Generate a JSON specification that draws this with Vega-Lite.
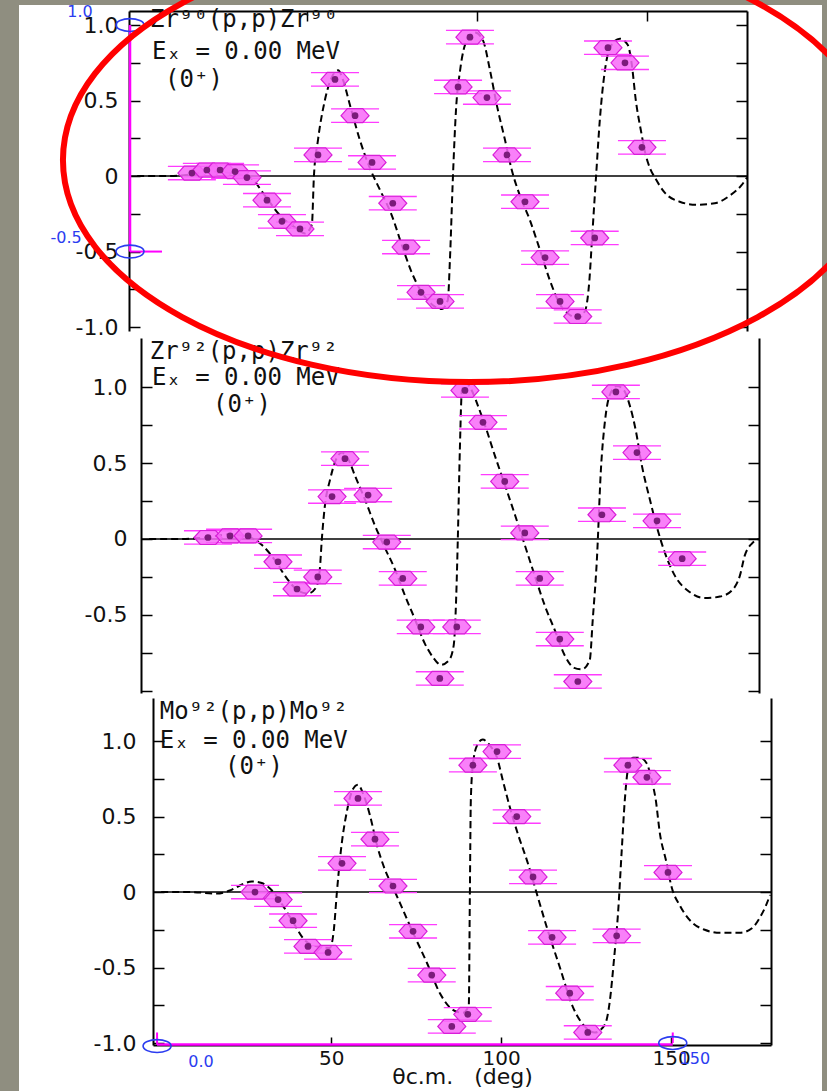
{
"$schema": "https://vega.github.io/schema/vega-lite/v6.json",
"width": 803, "height": 1086,
"autosize": {"type": "none"},
"padding": {"left": 19, "top": 5, "right": 5, "bottom": 0},
"background": "#8f8e80",
"config": {"view": {"fill": "white", "stroke": null}, "axis": {"grid": false}},
"data": {"values": [{}]},
"datasets": {
"zr90_pts": [{"theta":16.1,"val":0.02},{"theta":20.5,"val":0.04},{"theta":24.4,"val":0.04},{"theta":28.8,"val":0.03},{"theta":32.3,"val":-0.01},{"theta":38.2,"val":-0.16},{"theta":42.6,"val":-0.30},{"theta":47.9,"val":-0.35},{"theta":53.2,"val":0.14},{"theta":58.2,"val":0.64},{"theta":64.1,"val":0.40},{"theta":69.1,"val":0.09},{"theta":75.2,"val":-0.18},{"theta":79.1,"val":-0.47},{"theta":83.5,"val":-0.77},{"theta":89.1,"val":-0.83},{"theta":94.4,"val":0.59},{"theta":97.9,"val":0.92},{"theta":102.9,"val":0.52},{"theta":108.8,"val":0.14},{"theta":114.1,"val":-0.17},{"theta":120.0,"val":-0.54},{"theta":124.4,"val":-0.83},{"theta":129.6,"val":-0.93},{"theta":134.6,"val":-0.41},{"theta":138.5,"val":0.85},{"theta":143.5,"val":0.75},{"theta":148.5,"val":0.19}],
"zr90_th": [{"theta":0,"val":0},{"theta":9.6,"val":0},{"theta":15.5,"val":0.01},{"theta":21.4,"val":0.03},{"theta":27.3,"val":0.02},{"theta":33.2,"val":-0.01},{"theta":37.6,"val":-0.13},{"theta":42.0,"val":-0.26},{"theta":46.4,"val":-0.34},{"theta":49.4,"val":-0.38},{"theta":51.4,"val":-0.32},{"theta":52.0,"val":0},{"theta":53.2,"val":0.24},{"theta":55.2,"val":0.50},{"theta":57.6,"val":0.67},{"theta":59.1,"val":0.70},{"theta":60.5,"val":0.64},{"theta":62.6,"val":0.47},{"theta":65.5,"val":0.24},{"theta":68.5,"val":0.05},{"theta":71.4,"val":-0.09},{"theta":74.9,"val":-0.26},{"theta":77.9,"val":-0.46},{"theta":80.8,"val":-0.64},{"theta":83.2,"val":-0.75},{"theta":86.7,"val":-0.85},{"theta":89.6,"val":-0.88},{"theta":91.4,"val":-0.82},{"theta":92.0,"val":-0.56},{"theta":92.9,"val":0},{"theta":93.8,"val":0.44},{"theta":95.0,"val":0.70},{"theta":97.0,"val":0.90},{"theta":99.4,"val":0.95},{"theta":101.7,"val":0.90},{"theta":103.8,"val":0.70},{"theta":105.8,"val":0.47},{"theta":108.2,"val":0.24},{"theta":110.2,"val":0.04},{"theta":112.6,"val":-0.13},{"theta":115.5,"val":-0.29},{"theta":118.5,"val":-0.49},{"theta":121.4,"val":-0.69},{"theta":124.4,"val":-0.85},{"theta":127.3,"val":-0.92},{"theta":129.8,"val":-0.94},{"theta":131.8,"val":-0.89},{"theta":133.0,"val":-0.70},{"theta":133.8,"val":-0.42},{"theta":135.0,"val":0},{"theta":136.1,"val":0.37},{"theta":137.6,"val":0.70},{"theta":139.6,"val":0.87},{"theta":142.0,"val":0.91},{"theta":144.3,"val":0.87},{"theta":145.5,"val":0.74},{"theta":146.7,"val":0.50},{"theta":148.2,"val":0.30},{"theta":149.6,"val":0.14},{"theta":151.1,"val":0.04},{"theta":152.3,"val":-0.01},{"theta":155.2,"val":-0.11},{"theta":159.6,"val":-0.17},{"theta":164.6,"val":-0.19},{"theta":169.9,"val":-0.18},{"theta":174.3,"val":-0.13},{"theta":177.8,"val":-0.06},{"theta":179.4,"val":-0.01}],
"zr92_pts": [{"theta":17.3,"val":0.01},{"theta":23.8,"val":0.02},{"theta":29.1,"val":0.02},{"theta":37.9,"val":-0.15},{"theta":43.5,"val":-0.33},{"theta":49.6,"val":-0.25},{"theta":53.8,"val":0.28},{"theta":57.6,"val":0.53},{"theta":64.4,"val":0.29},{"theta":69.9,"val":-0.02},{"theta":74.6,"val":-0.26},{"theta":79.9,"val":-0.58},{"theta":85.5,"val":-0.92},{"theta":90.5,"val":-0.58},{"theta":92.9,"val":0.98},{"theta":98.2,"val":0.77},{"theta":104.6,"val":0.38},{"theta":110.5,"val":0.04},{"theta":114.9,"val":-0.26},{"theta":120.8,"val":-0.66},{"theta":126.1,"val":-0.94},{"theta":133.2,"val":0.16},{"theta":137.3,"val":0.97},{"theta":143.5,"val":0.57},{"theta":149.4,"val":0.12},{"theta":156.8,"val":-0.13}],
"zr92_th": [{"theta":0,"val":0},{"theta":9.1,"val":0},{"theta":16.4,"val":0.01},{"theta":23.8,"val":0.03},{"theta":29.6,"val":0.01},{"theta":33.2,"val":-0.04},{"theta":37.0,"val":-0.14},{"theta":40.5,"val":-0.26},{"theta":43.8,"val":-0.34},{"theta":46.7,"val":-0.36},{"theta":49.1,"val":-0.32},{"theta":50.2,"val":-0.20},{"theta":50.8,"val":0},{"theta":51.7,"val":0.22},{"theta":53.2,"val":0.39},{"theta":54.9,"val":0.52},{"theta":56.7,"val":0.57},{"theta":58.5,"val":0.53},{"theta":60.5,"val":0.42},{"theta":63.5,"val":0.26},{"theta":66.4,"val":0.09},{"theta":69.4,"val":-0.06},{"theta":72.3,"val":-0.20},{"theta":75.2,"val":-0.37},{"theta":78.2,"val":-0.53},{"theta":81.1,"val":-0.69},{"theta":83.5,"val":-0.78},{"theta":85.8,"val":-0.83},{"theta":88.2,"val":-0.80},{"theta":89.6,"val":-0.70},{"theta":90.3,"val":-0.40},{"theta":90.8,"val":0},{"theta":91.4,"val":0.59},{"theta":92.0,"val":0.98},{"theta":93.2,"val":1.03},{"theta":94.9,"val":0.98},{"theta":96.7,"val":0.88},{"theta":98.8,"val":0.75},{"theta":101.7,"val":0.55},{"theta":104.6,"val":0.36},{"theta":107.6,"val":0.16},{"theta":110.5,"val":-0.04},{"theta":113.4,"val":-0.24},{"theta":116.4,"val":-0.44},{"theta":119.3,"val":-0.60},{"theta":122.3,"val":-0.77},{"theta":125.0,"val":-0.85},{"theta":127.3,"val":-0.86},{"theta":129.6,"val":-0.80},{"theta":130.5,"val":-0.53},{"theta":131.7,"val":-0.14},{"theta":132.9,"val":0.46},{"theta":134.1,"val":0.78},{"theta":135.5,"val":0.95},{"theta":137.6,"val":1.01},{"theta":139.7,"val":0.98},{"theta":141.4,"val":0.88},{"theta":143.2,"val":0.71},{"theta":144.9,"val":0.49},{"theta":147.3,"val":0.26},{"theta":149.6,"val":0.06},{"theta":151.7,"val":-0.09},{"theta":154.6,"val":-0.24},{"theta":159.0,"val":-0.35},{"theta":163.4,"val":-0.39},{"theta":167.9,"val":-0.38},{"theta":171.4,"val":-0.34},{"theta":173.8,"val":-0.24},{"theta":175.2,"val":-0.11},{"theta":177.3,"val":-0.03},{"theta":179.4,"val":0}],
"mo92_pts": [{"theta":27.6,"val":0.0},{"theta":34.4,"val":-0.05},{"theta":38.8,"val":-0.19},{"theta":43.2,"val":-0.36},{"theta":49.1,"val":-0.40},{"theta":53.2,"val":0.19},{"theta":57.9,"val":0.62},{"theta":62.9,"val":0.35},{"theta":68.2,"val":0.04},{"theta":74.1,"val":-0.26},{"theta":79.6,"val":-0.55},{"theta":85.5,"val":-0.89},{"theta":90.2,"val":-0.81},{"theta":91.7,"val":0.84},{"theta":98.8,"val":0.93},{"theta":104.6,"val":0.50},{"theta":109.4,"val":0.10},{"theta":115.0,"val":-0.30},{"theta":120.2,"val":-0.67},{"theta":125.5,"val":-0.93},{"theta":134.0,"val":-0.29},{"theta":137.3,"val":0.84},{"theta":142.9,"val":0.76},{"theta":149.1,"val":0.13}],
"mo92_th": [{"theta":0,"val":0},{"theta":8.5,"val":0},{"theta":16.4,"val":-0.01},{"theta":20.2,"val":0.01},{"theta":23.8,"val":0.05},{"theta":26.7,"val":0.07},{"theta":29.6,"val":0.06},{"theta":32.6,"val":0.01},{"theta":35.8,"val":-0.09},{"theta":38.8,"val":-0.20},{"theta":42.3,"val":-0.32},{"theta":45.8,"val":-0.36},{"theta":49.6,"val":-0.37},{"theta":50.8,"val":-0.25},{"theta":51.7,"val":0},{"theta":52.9,"val":0.28},{"theta":54.6,"val":0.53},{"theta":56.4,"val":0.68},{"theta":57.9,"val":0.71},{"theta":59.6,"val":0.64},{"theta":61.4,"val":0.51},{"theta":63.5,"val":0.31},{"theta":65.8,"val":0.15},{"theta":68.2,"val":0.03},{"theta":70.2,"val":-0.07},{"theta":74.1,"val":-0.27},{"theta":78.2,"val":-0.47},{"theta":82.0,"val":-0.67},{"theta":85.8,"val":-0.78},{"theta":88.8,"val":-0.80},{"theta":90.5,"val":-0.75},{"theta":90.8,"val":-0.05},{"theta":91.1,"val":0.61},{"theta":91.7,"val":0.84},{"theta":92.9,"val":0.97},{"theta":94.6,"val":1.01},{"theta":96.7,"val":0.97},{"theta":98.8,"val":0.89},{"theta":100.5,"val":0.74},{"theta":102.6,"val":0.56},{"theta":105.0,"val":0.38},{"theta":107.6,"val":0.21},{"theta":110.5,"val":-0.01},{"theta":113.4,"val":-0.23},{"theta":117.3,"val":-0.50},{"theta":121.1,"val":-0.76},{"theta":124.6,"val":-0.89},{"theta":127.6,"val":-0.93},{"theta":130.5,"val":-0.88},{"theta":132.0,"val":-0.72},{"theta":133.2,"val":-0.45},{"theta":134.4,"val":-0.14},{"theta":135.5,"val":0.28},{"theta":136.4,"val":0.61},{"theta":137.3,"val":0.81},{"theta":138.8,"val":0.89},{"theta":140.8,"val":0.89},{"theta":142.9,"val":0.85},{"theta":144.3,"val":0.74},{"theta":145.5,"val":0.61},{"theta":146.7,"val":0.39},{"theta":148.5,"val":0.21},{"theta":150.2,"val":0.03},{"theta":152.6,"val":-0.09},{"theta":156.1,"val":-0.20},{"theta":159.9,"val":-0.25},{"theta":164.4,"val":-0.27},{"theta":170.2,"val":-0.27},{"theta":173.8,"val":-0.24},{"theta":176.1,"val":-0.17},{"theta":177.9,"val":-0.09},{"theta":179.1,"val":-0.02}],
"cal_top": [{"theta":-2.1,"val":1.0},{"theta":-2.1,"val":-0.5}],
"cal_bot": [{"theta":-1.2,"val":-1.02},{"theta":150.5,"val":-1.0}]
},
"layer": [
{
"layer": [
{"mark":{"type":"rule","color":"black","strokeWidth":1.5},
 "encoding":{"x":{"datum":-2.4,"type":"quantitative","scale":{"domain":[-2.4,179.4],"range":[110,728],"nice":false,"zero":false},"axis":null},"x2":{"datum":179.4},
 "y":{"datum":0,"type":"quantitative","scale":{"domain":[-1.026,1.093],"range":[326,6],"nice":false,"zero":false},
  "axis":{"orient":"right","offset":-75,"values":[-1,-0.75,-0.5,-0.25,0,0.25,0.5,0.75,1],"labels":false,"tickSize":-11,"tickWidth":1.5,"tickColor":"black","domainColor":"black","domainWidth":2,"title":null,"grid":false}}}},
{"data":{"name":"zr90_th"},"mark":{"type":"line","color":"black","strokeWidth":2,"strokeDash":[7,4],"interpolate":"monotone"},
 "encoding":{"x":{"field":"theta","type":"quantitative","scale":{"domain":[-2.4,179.4],"range":[110,728],"nice":false,"zero":false},
  "axis":{"orient":"top","offset":-6,"values":[50,100,150],"labels":false,"tickSize":-10,"tickWidth":1.5,"tickColor":"black","domainColor":"black","domainWidth":2,"title":null,"grid":false}},
 "y":{"field":"val","type":"quantitative","scale":{"domain":[-1.026,1.093],"range":[326,6],"nice":false,"zero":false},
  "axis":{"orient":"left","offset":-110,"values":[-1,-0.75,-0.5,-0.25,0,0.25,0.5,0.75,1],"labelExpr":"datum.value == 0 ? '0' : (abs(datum.value * 2 - round(datum.value * 2)) > 0.001 ? '' : (datum.value < 0 ? '-' : '') + format(abs(datum.value), '.1f'))","tickSize":-11,"tickWidth":1.5,"tickColor":"black","labelPadding":22,"domainColor":"black","domainWidth":2,"labelFont":"DejaVu Sans","labelFontSize":22,"labelColor":"#111111","title":null,"grid":false,"labelOverlap":false,"labelFlush":false}}}},
{"data":{"name":"zr90_pts"},"mark":{"type":"point","shape":"M -1 -0.28 L 1 -0.28 M -1 0.28 L 1 0.28","size":2304,"filled":false,"stroke":"#ff3cff","strokeWidth":1.3,"opacity":1},
 "encoding":{"x":{"field":"theta","type":"quantitative","axis":null},"y":{"field":"val","type":"quantitative","axis":null}}},
{"data":{"name":"zr90_pts"},"mark":{"type":"point","shape":"M -1 0 L -0.55 -0.5 L 0.55 -0.5 L 1 0 L 0.55 0.5 L -0.55 0.5 Z","size":784,"filled":true,"fill":"#f86af8","fillOpacity":0.85,"stroke":"#d81fd8","strokeWidth":1.2,"opacity":1},
 "encoding":{"x":{"field":"theta","type":"quantitative","axis":null},"y":{"field":"val","type":"quantitative","axis":null}}},
{"data":{"name":"zr90_pts"},"mark":{"type":"point","shape":"circle","size":45,"filled":true,"color":"#7b1b7b","opacity":1},
 "encoding":{"x":{"field":"theta","type":"quantitative","axis":null},"y":{"field":"val","type":"quantitative","axis":null}}},
{"mark":{"type":"rule","color":"#ff00ff","strokeWidth":2.5},
 "encoding":{"x":{"datum":-2.1,"type":"quantitative","axis":null},"y":{"datum":1.0,"type":"quantitative","axis":null},"y2":{"datum":-0.5}}},
{"mark":{"type":"rule","color":"#ff00ff","strokeWidth":2},
 "encoding":{"x":{"datum":-2.1,"type":"quantitative","axis":null},"x2":{"datum":7.3},"y":{"datum":-0.5,"type":"quantitative","axis":null}}},
{"data":{"name":"cal_top"},"mark":{"type":"point","shape":"M 1 0 C 1 0.254 0.5523 0.46 0 0.46 C -0.5523 0.46 -1 0.254 -1 0 C -1 -0.254 -0.5523 -0.46 0 -0.46 C 0.5523 -0.46 1 -0.254 1 0 Z","size":784,"filled":false,"stroke":"#2b3cf0","strokeWidth":1.6,"opacity":1},
 "encoding":{"x":{"field":"theta","type":"quantitative","axis":null},"y":{"field":"val","type":"quantitative","axis":null}}},
{"mark":{"type":"text","text":"1.0","align":"center","baseline":"middle","font":"DejaVu Sans","fontSize":16,"color":"#2b3cf0"},
 "encoding":{"x":{"datum":-16.8,"type":"quantitative","axis":null},"y":{"datum":1.088,"type":"quantitative","axis":null}}},
{"mark":{"type":"text","text":"-0.5","align":"center","baseline":"middle","font":"DejaVu Sans","fontSize":16,"color":"#2b3cf0"},
 "encoding":{"x":{"datum":-20.9,"type":"quantitative","axis":null},"y":{"datum":-0.41,"type":"quantitative","axis":null}}},
{"mark":{"type":"text","text":"Zr⁹⁰(p,p)Zr⁹⁰","align":"left","baseline":"middle","font":"DejaVu Sans Mono","fontSize":24,"color":"#111111"},
 "encoding":{"x":{"datum":3.8,"type":"quantitative","axis":null},"y":{"datum":1.033,"type":"quantitative","axis":null}}},
{"mark":{"type":"text","text":"Eₓ = 0.00 MeV","align":"left","baseline":"middle","font":"DejaVu Sans Mono","fontSize":24,"color":"#111111"},
 "encoding":{"x":{"datum":4.4,"type":"quantitative","axis":null},"y":{"datum":0.82,"type":"quantitative","axis":null}}},
{"mark":{"type":"text","text":"(0⁺)","align":"left","baseline":"middle","font":"DejaVu Sans Mono","fontSize":24,"color":"#111111"},
 "encoding":{"x":{"datum":8.2,"type":"quantitative","axis":null},"y":{"datum":0.636,"type":"quantitative","axis":null}}}
],
"resolve":{"axis":{"x":"independent","y":"independent"}}
},
{
"layer": [
{"mark":{"type":"rule","color":"black","strokeWidth":1.5},
 "encoding":{"x":{"datum":-2.4,"type":"quantitative","scale":{"domain":[-2.4,179.4],"range":[122,740],"nice":false,"zero":false},"axis":null},"x2":{"datum":179.4},
 "y":{"datum":0,"type":"quantitative","scale":{"domain":[-1.016,1.326],"range":[688,333],"nice":false,"zero":false},
  "axis":{"orient":"right","offset":-63,"values":[-1,-0.75,-0.5,-0.25,0,0.25,0.5,0.75,1],"labels":false,"tickSize":-11,"tickWidth":1.5,"tickColor":"black","domainColor":"black","domainWidth":2,"title":null,"grid":false}}}},
{"data":{"name":"zr92_th"},"mark":{"type":"line","color":"black","strokeWidth":2,"strokeDash":[7,4],"interpolate":"monotone"},
 "encoding":{"x":{"field":"theta","type":"quantitative","scale":{"domain":[-2.4,179.4],"range":[122,740],"nice":false,"zero":false},"axis":null},
 "y":{"field":"val","type":"quantitative","scale":{"domain":[-1.016,1.326],"range":[688,333],"nice":false,"zero":false},
  "axis":{"orient":"left","offset":-122,"values":[-1,-0.75,-0.5,-0.25,0,0.25,0.5,0.75,1],"labelExpr":"datum.value < -0.9 ? '' : (datum.value == 0 ? '0' : (abs(datum.value * 2 - round(datum.value * 2)) > 0.001 ? '' : (datum.value < 0 ? '-' : '') + format(abs(datum.value), '.1f')))","tickSize":-11,"tickWidth":1.5,"tickColor":"black","labelPadding":25,"domainColor":"black","domainWidth":2,"labelFont":"DejaVu Sans","labelFontSize":22,"labelColor":"#111111","title":null,"grid":false,"labelOverlap":false,"labelFlush":false}}}},
{"data":{"name":"zr92_pts"},"mark":{"type":"point","shape":"M -1 -0.28 L 1 -0.28 M -1 0.28 L 1 0.28","size":2304,"filled":false,"stroke":"#ff3cff","strokeWidth":1.3,"opacity":1},
 "encoding":{"x":{"field":"theta","type":"quantitative","axis":null},"y":{"field":"val","type":"quantitative","axis":null}}},
{"data":{"name":"zr92_pts"},"mark":{"type":"point","shape":"M -1 0 L -0.55 -0.5 L 0.55 -0.5 L 1 0 L 0.55 0.5 L -0.55 0.5 Z","size":784,"filled":true,"fill":"#f86af8","fillOpacity":0.85,"stroke":"#d81fd8","strokeWidth":1.2,"opacity":1},
 "encoding":{"x":{"field":"theta","type":"quantitative","axis":null},"y":{"field":"val","type":"quantitative","axis":null}}},
{"data":{"name":"zr92_pts"},"mark":{"type":"point","shape":"circle","size":45,"filled":true,"color":"#7b1b7b","opacity":1},
 "encoding":{"x":{"field":"theta","type":"quantitative","axis":null},"y":{"field":"val","type":"quantitative","axis":null}}},
{"mark":{"type":"text","text":"Zr⁹²(p,p)Zr⁹²","align":"left","baseline":"middle","font":"DejaVu Sans Mono","fontSize":24,"color":"#111111"},
 "encoding":{"x":{"datum":0.2,"type":"quantitative","axis":null},"y":{"datum":1.233,"type":"quantitative","axis":null}}},
{"mark":{"type":"text","text":"Eₓ = 0.00 MeV","align":"left","baseline":"middle","font":"DejaVu Sans Mono","fontSize":24,"color":"#111111"},
 "encoding":{"x":{"datum":0.8,"type":"quantitative","axis":null},"y":{"datum":1.062,"type":"quantitative","axis":null}}},
{"mark":{"type":"text","text":"(0⁺)","align":"left","baseline":"middle","font":"DejaVu Sans Mono","fontSize":24,"color":"#111111"},
 "encoding":{"x":{"datum":18.8,"type":"quantitative","axis":null},"y":{"datum":0.884,"type":"quantitative","axis":null}}}
],
"resolve":{"axis":{"x":"independent","y":"independent"}}
},
{
"layer": [
{"mark":{"type":"rule","color":"black","strokeWidth":1.5},
 "encoding":{"x":{"datum":-2.4,"type":"quantitative","scale":{"domain":[-2.4,179.4],"range":[134,752],"nice":false,"zero":false},"axis":null},"x2":{"datum":179.4},
 "y":{"datum":0,"type":"quantitative","scale":{"domain":[-1.013,1.285],"range":[1040,693],"nice":false,"zero":false},
  "axis":{"orient":"right","offset":-51,"values":[-1,-0.75,-0.5,-0.25,0,0.25,0.5,0.75,1],"labels":false,"tickSize":-11,"tickWidth":1.5,"tickColor":"black","domainColor":"black","domainWidth":2,"title":null,"grid":false}}}},
{"data":{"name":"mo92_th"},"mark":{"type":"line","color":"black","strokeWidth":2,"strokeDash":[7,4],"interpolate":"monotone"},
 "encoding":{"x":{"field":"theta","type":"quantitative","scale":{"domain":[-2.4,179.4],"range":[134,752],"nice":false,"zero":false},
  "axis":{"orient":"bottom","offset":-46,"values":[50,100,150],"tickSize":-8,"tickWidth":1.5,"tickColor":"black","labelPadding":11,"domainColor":"black","domainWidth":2,"labelFont":"DejaVu Sans","labelFontSize":20,"labelColor":"#111111","title":"θc.m.\u00a0\u00a0\u00a0(deg)","titleFont":"DejaVu Sans","titleFontSize":22,"titleFontWeight":"normal","titleColor":"#111111","titleBaseline":"top","titleY":21,"grid":false,"labelOverlap":false,"labelFlush":false}},
 "y":{"field":"val","type":"quantitative","scale":{"domain":[-1.013,1.285],"range":[1040,693],"nice":false,"zero":false},
  "axis":{"orient":"left","offset":-134,"values":[-1,-0.75,-0.5,-0.25,0,0.25,0.5,0.75,1],"labelExpr":"datum.value == 0 ? '0' : (abs(datum.value * 2 - round(datum.value * 2)) > 0.001 ? '' : (datum.value < 0 ? '-' : '') + format(abs(datum.value), '.1f'))","tickSize":-11,"tickWidth":1.5,"tickColor":"black","labelPadding":28,"domainColor":"black","domainWidth":2,"labelFont":"DejaVu Sans","labelFontSize":22,"labelColor":"#111111","title":null,"grid":false,"labelOverlap":false,"labelFlush":false}}}},
{"data":{"name":"mo92_pts"},"mark":{"type":"point","shape":"M -1 -0.28 L 1 -0.28 M -1 0.28 L 1 0.28","size":2304,"filled":false,"stroke":"#ff3cff","strokeWidth":1.3,"opacity":1},
 "encoding":{"x":{"field":"theta","type":"quantitative","axis":null},"y":{"field":"val","type":"quantitative","axis":null}}},
{"data":{"name":"mo92_pts"},"mark":{"type":"point","shape":"M -1 0 L -0.55 -0.5 L 0.55 -0.5 L 1 0 L 0.55 0.5 L -0.55 0.5 Z","size":784,"filled":true,"fill":"#f86af8","fillOpacity":0.85,"stroke":"#d81fd8","strokeWidth":1.2,"opacity":1},
 "encoding":{"x":{"field":"theta","type":"quantitative","axis":null},"y":{"field":"val","type":"quantitative","axis":null}}},
{"data":{"name":"mo92_pts"},"mark":{"type":"point","shape":"circle","size":45,"filled":true,"color":"#7b1b7b","opacity":1},
 "encoding":{"x":{"field":"theta","type":"quantitative","axis":null},"y":{"field":"val","type":"quantitative","axis":null}}},
{"mark":{"type":"rule","color":"#ff00ff","strokeWidth":2.5},
 "encoding":{"x":{"datum":-1.2,"type":"quantitative","axis":null},"x2":{"datum":150.5},"y":{"datum":-1.01,"type":"quantitative","axis":null}}},
{"mark":{"type":"rule","color":"#ff00ff","strokeWidth":2},
 "encoding":{"x":{"datum":-1.2,"type":"quantitative","axis":null},"y":{"datum":-1.01,"type":"quantitative","axis":null},"y2":{"datum":-0.93}}},
{"mark":{"type":"rule","color":"#ff00ff","strokeWidth":2},
 "encoding":{"x":{"datum":150.5,"type":"quantitative","axis":null},"y":{"datum":-1.0,"type":"quantitative","axis":null},"y2":{"datum":-0.93}}},
{"data":{"name":"cal_bot"},"mark":{"type":"point","shape":"M 1 0 C 1 0.254 0.5523 0.46 0 0.46 C -0.5523 0.46 -1 0.254 -1 0 C -1 -0.254 -0.5523 -0.46 0 -0.46 C 0.5523 -0.46 1 -0.254 1 0 Z","size":784,"filled":false,"stroke":"#2b3cf0","strokeWidth":1.6,"opacity":1},
 "encoding":{"x":{"field":"theta","type":"quantitative","axis":null},"y":{"field":"val","type":"quantitative","axis":null}}},
{"mark":{"type":"text","text":"0.0","align":"center","baseline":"middle","font":"DejaVu Sans","fontSize":16,"color":"#2b3cf0"},
 "encoding":{"x":{"datum":11.7,"type":"quantitative","axis":null},"y":{"datum":-1.126,"type":"quantitative","axis":null}}},
{"mark":{"type":"text","text":"150","align":"center","baseline":"middle","font":"DejaVu Sans","fontSize":16,"color":"#2b3cf0"},
 "encoding":{"x":{"datum":157,"type":"quantitative","axis":null},"y":{"datum":-1.106,"type":"quantitative","axis":null}}},
{"mark":{"type":"text","text":"Mo⁹²(p,p)Mo⁹²","align":"left","baseline":"middle","font":"DejaVu Sans Mono","fontSize":24,"color":"#111111"},
 "encoding":{"x":{"datum":-0.4,"type":"quantitative","axis":null},"y":{"datum":1.192,"type":"quantitative","axis":null}}},
{"mark":{"type":"text","text":"Eₓ = 0.00 MeV","align":"left","baseline":"middle","font":"DejaVu Sans Mono","fontSize":24,"color":"#111111"},
 "encoding":{"x":{"datum":-0.4,"type":"quantitative","axis":null},"y":{"datum":1.0,"type":"quantitative","axis":null}}},
{"mark":{"type":"text","text":"(0⁺)","align":"left","baseline":"middle","font":"DejaVu Sans Mono","fontSize":24,"color":"#111111"},
 "encoding":{"x":{"datum":18.8,"type":"quantitative","axis":null},"y":{"datum":0.825,"type":"quantitative","axis":null}}}
],
"resolve":{"axis":{"x":"independent","y":"independent"}}
},
{"mark":{"type":"point","shape":"M 1 0 C 1 0.3013 0.5523 0.5455 0 0.5455 C -0.5523 0.5455 -1 0.3013 -1 0 C -1 -0.3013 -0.5523 -0.5455 0 -0.5455 C 0.5523 -0.5455 1 -0.3013 1 0 Z","size":662596,"filled":false,"stroke":"#ff0000","strokeWidth":6,"opacity":1},
 "encoding":{"x":{"datum":97.9,"type":"quantitative","scale":{"domain":[-2.4,179.4],"range":[110,728],"nice":false,"zero":false},"axis":null},
 "y":{"datum":0.106,"type":"quantitative","scale":{"domain":[-1.026,1.093],"range":[326,6],"nice":false,"zero":false},"axis":null}}}
],
"resolve":{"scale":{"x":"independent","y":"independent"},"axis":{"x":"independent","y":"independent"}}
}
